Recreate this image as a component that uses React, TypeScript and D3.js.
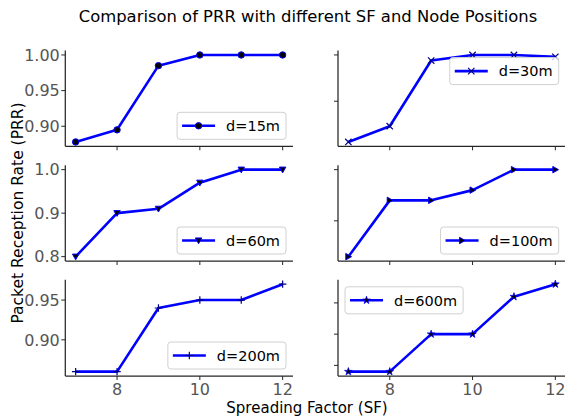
import React from 'react';
import * as d3 from 'd3';

const sf = [7, 8, 9, 10, 11, 12];
const prr15 = [0.878, 0.895, 0.985, 1.0, 1.0, 1.0];
const prr30 = [0.906, 0.923, 0.994, 1.0, 1.0, 0.998];
const prr60 = [0.8, 0.9, 0.91, 0.97, 1.0, 1.0];
const prr100 = [0.83, 0.94, 0.94, 0.96, 1.0, 1.0];
const prr200 = [0.86, 0.86, 0.94, 0.95, 0.95, 0.97];
const prr600 = [0.84, 0.84, 0.9, 0.9, 0.96, 0.98];
const seriesLabels = ['d=15m', 'd=30m', 'd=60m', 'd=100m', 'd=200m', 'd=600m'];
const yTicks15 = [0.9, 0.95, 1.0];
const yTicks30 = [0.95, 1.0];
const yTicks60 = [0.8, 0.9, 1.0];
const yTicks100 = [0.9, 1.0];
const yTicks200 = [0.9, 0.95];
const yTicks600 = [0.85, 0.9, 0.95];
const xTicks = [8, 10, 12];
const title = 'Comparison of PRR with different SF and Node Positions';
const xLabel = 'Spreading Factor (SF)';
const yLabel = 'Packet Reception Rate (PRR)';

const W = 565, H = 418;
const FONT = 'DejaVu Sans, sans-serif';
const FS = 14.5;
const TICK_FS = 16;
const colX = [[65.3, 293], [338, 565.7]];
const rowY = [[50.6, 146.3], [165.3, 261], [279.8, 376]];

type Panel = {
  data: number[]; label: string; marker: string; ticks: number[]; dec: number;
  row: number; col: number; loc: 'lr' | 'ur' | 'ul';
};

const panels: Panel[] = [
  { data: prr15, label: seriesLabels[0], marker: 'o', ticks: yTicks15, dec: 2, row: 0, col: 0, loc: 'lr' },
  { data: prr30, label: seriesLabels[1], marker: 'x', ticks: yTicks30, dec: 2, row: 0, col: 1, loc: 'ur' },
  { data: prr60, label: seriesLabels[2], marker: 'v', ticks: yTicks60, dec: 1, row: 1, col: 0, loc: 'lr' },
  { data: prr100, label: seriesLabels[3], marker: '>', ticks: yTicks100, dec: 1, row: 1, col: 1, loc: 'lr' },
  { data: prr200, label: seriesLabels[4], marker: '+', ticks: yTicks200, dec: 2, row: 2, col: 0, loc: 'lr' },
  { data: prr600, label: seriesLabels[5], marker: '*', ticks: yTicks600, dec: 2, row: 2, col: 1, loc: 'ul' },
];

const charW: Record<string, number> = { d: 0.635, '=': 0.838, m: 0.974 };
const textWidth = (s: string) =>
  s.split('').reduce((a, c) => a + (charW[c] ?? 0.636), 0) * FS;

const BLUE = '#0000ff';

function Marker({ type, x, y }: { type: string; x: number; y: number }) {
  const s = 3.2;
  if (type === 'o') return <circle cx={x} cy={y} r={s} fill="#000" stroke={BLUE} strokeWidth={1} />;
  if (type === 'x')
    return <path d={`M${x - s},${y - s}L${x + s},${y + s}M${x - s},${y + s}L${x + s},${y - s}`} stroke="#00008b" strokeWidth={1.2} />;
  if (type === '+')
    return <path d={`M${x - s - 0.5},${y}L${x + s + 0.5},${y}M${x},${y - s - 0.5}L${x},${y + s + 0.5}`} stroke="#00008b" strokeWidth={1.2} />;
  if (type === 'v')
    return <path d={`M${x - s},${y - s * 0.8}L${x + s},${y - s * 0.8}L${x},${y + s}Z`} fill="#000" stroke={BLUE} strokeWidth={1} />;
  if (type === '>')
    return <path d={`M${x - s * 0.8},${y - s}L${x - s * 0.8},${y + s}L${x + s},${y}Z`} fill="#000" stroke={BLUE} strokeWidth={1} />;
  const star = d3.symbol().type(d3.symbolStar).size(18)();
  return <path d={star || ''} transform={`translate(${x},${y})`} fill="#000" stroke={BLUE} strokeWidth={0.8} />;
}

function PanelView({ p }: { p: Panel }) {
  const [x0, x1] = colX[p.col];
  const [y0, y1] = rowY[p.row];
  const x = d3.scaleLinear().domain([6.75, 12.25]).range([x0, x1]);
  const mn = d3.min(p.data)!, mx = d3.max(p.data)!;
  const m = (mx - mn) * 0.05;
  const y = d3.scaleLinear().domain([mn - m, mx + m]).range([y1, y0]);
  const line = d3.line<number>().x((_, i) => x(sf[i])).y((d) => y(d));
  const showY = p.col === 0;
  const showX = p.row === 2;
  const tw = textWidth(p.label);
  const lw = tw + 55, lh = 27;
  let lx = 0, ly = 0;
  if (p.loc === 'lr') { lx = x1 - 7 - lw; ly = y1 - 7 - lh; }
  else if (p.loc === 'ur') { lx = x1 - 7 - lw; ly = y0 + 7; }
  else { lx = x0 + 7; ly = y0 + 7; }
  const fmt = d3.format(`.${p.dec}f`);
  return (
    <g>
      <path d={line(p.data) || ''} fill="none" stroke={BLUE} strokeWidth={2.6} strokeLinejoin="round" />
      {p.data.map((d, i) => <Marker key={i} type={p.marker} x={x(sf[i])} y={y(d)} />)}
      <line x1={x0} x2={x0} y1={y0} y2={y1} stroke="#262626" strokeWidth={1.25} />
      <line x1={x0} x2={x1} y1={y1} y2={y1} stroke="#262626" strokeWidth={1.25} />
      {p.ticks.map((t) => (
        <g key={t}>
          <line x1={x0 - 4} x2={x0} y1={y(t)} y2={y(t)} stroke="#262626" strokeWidth={1} />
          {showY && (
            <text x={x0 - 5.5} y={y(t)} dy="0.36em" textAnchor="end" fontSize={TICK_FS} fill="#555" fontFamily={FONT}>{fmt(t)}</text>
          )}
        </g>
      ))}
      {xTicks.map((t) => (
        <g key={t}>
          <line x1={x(t)} x2={x(t)} y1={y1} y2={y1 + 4} stroke="#262626" strokeWidth={1} />
          {showX && (
            <text x={x(t)} y={y1 + 6.5} dy="0.76em" textAnchor="middle" fontSize={TICK_FS} fill="#555" fontFamily={FONT}>{t}</text>
          )}
        </g>
      ))}
      <rect x={lx} y={ly} width={lw} height={lh} rx={3} fill="#fff" fillOpacity={0.8} stroke="#d0d0d0" strokeWidth={1} />
      <line x1={lx + 5} x2={lx + 38} y1={ly + lh / 2} y2={ly + lh / 2} stroke={BLUE} strokeWidth={2.6} />
      <Marker type={p.marker} x={lx + 21.5} y={ly + lh / 2} />
      <text x={lx + 49} y={ly + lh / 2} dy="0.36em" fontSize={FS} fill="#000" fontFamily={FONT}>{p.label}</text>
    </g>
  );
}

export default function App() {
  return (
    <svg width={W} height={H} style={{ position: 'absolute', left: 0, top: 0, background: '#fff' }}>
      <rect width={W} height={H} fill="#fff" />
      <text x={308} y={22} textAnchor="middle" fontSize={16.4} fontFamily={FONT} fill="#000">{title}</text>
      {panels.map((p, i) => <PanelView key={i} p={p} />)}
      <text x={307} y={413} textAnchor="middle" fontSize={15} fontFamily={FONT} fill="#000">{xLabel}</text>
      <text transform="translate(23,213) rotate(-90)" textAnchor="middle" fontSize={15.5} fontFamily={FONT} fill="#000">{yLabel}</text>
    </svg>
  );
}
